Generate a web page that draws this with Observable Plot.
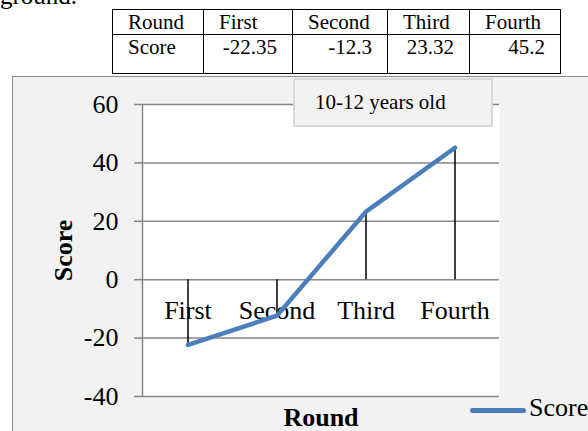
<!DOCTYPE html>
<html><head><meta charset="utf-8">
<script src="https://cdn.jsdelivr.net/npm/d3@7"></script>
<script src="https://cdn.jsdelivr.net/npm/@observablehq/plot@0.6"></script>
<style>
html,body{margin:0;padding:0;background:#fff;}
body{width:588px;height:431px;position:relative;overflow:hidden;font-family:"Liberation Serif","Times New Roman",serif;color:#000;}
#frag{position:absolute;left:0;top:-17px;font-size:25px;line-height:1;white-space:nowrap;font-family:"Liberation Serif",serif;}
#tbl{position:absolute;left:112px;top:9px;border-collapse:collapse;table-layout:fixed;font-size:21px;line-height:24px;font-family:"Liberation Serif",serif;}
#tbl td{border:1.5px solid #000;padding:0 15px;vertical-align:top;white-space:nowrap;overflow:hidden;font-family:"Liberation Serif",serif;}
#tbl td.num{text-align:right;}
#tbl tr.r1 td{height:24px;}
#tbl tr.r2 td{height:38px;}
#box{position:absolute;left:12px;top:76px;width:620px;height:400px;background:#f2f2f2;border:1px solid #8c8c8c;}
#chart{position:absolute;left:0;top:0;}
#title{position:absolute;left:280px;top:1px;width:200px;height:49px;box-sizing:border-box;border:2px solid #d9d9d9;background:#f2f2f2;font-size:21px;line-height:24px;padding:10px 0 0 20px;white-space:nowrap;font-family:"Liberation Serif",serif;}
#legline{position:absolute;left:457px;top:331px;width:56px;height:4.5px;border-radius:3px;background:#4a7ebb;}
#legtext{position:absolute;left:516px;top:318px;font-size:26px;line-height:26px;white-space:nowrap;font-family:"Liberation Serif",serif;}
#chart g[aria-label^="y-axis"] line,#chart g[aria-label^="y-axis"] path{stroke:#878787;stroke-width:1.5;}
</style>
</head><body>
<div id="frag">ground.</div>
<table id="tbl"></table>
<div id="box">
  <div id="chart"></div>
  <div id="title"></div>
  <div id="legline"></div>
  <div id="legtext"></div>
</div>
<script>
const rounds = ["First", "Second", "Third", "Fourth"];
const scores = [-22.35, -12.3, 23.32, 45.2];
const yTicks = [-40, -20, 0, 20, 40, 60];
const rowLabels = ["Round", "Score"];
const chartTitle = "10-12 years old";
const seriesName = "Score";
const xTitle = "Round";
const yTitle = "Score";

const data = rounds.map((r, i) => ({round: r, score: scores[i]}));

// table
const colW = [91, 89, 95, 82, 91];
const tbl = document.getElementById("tbl");
const cg = document.createElement("colgroup");
colW.forEach(w => { const c = document.createElement("col"); c.style.width = w + "px"; cg.appendChild(c); });
tbl.appendChild(cg);
const tr1 = document.createElement("tr"); tr1.className = "r1";
[rowLabels[0], ...rounds].forEach(t => { const td = document.createElement("td"); td.textContent = t; tr1.appendChild(td); });
const tr2 = document.createElement("tr"); tr2.className = "r2";
const td0 = document.createElement("td"); td0.textContent = rowLabels[1]; tr2.appendChild(td0);
scores.forEach(v => { const td = document.createElement("td"); td.className = "num"; td.textContent = String(v); tr2.appendChild(td); });
tbl.appendChild(tr1); tbl.appendChild(tr2);

document.getElementById("title").textContent = chartTitle;
document.getElementById("legtext").textContent = seriesName;

const W = 575, H = 354, ml = 129, mr = 89, mt = 27, mb = 35;
const iw = W - ml - mr, ih = H - mt - mb;
const grid = "#878787";

const chart = Plot.plot({
  width: W, height: H,
  marginLeft: ml, marginRight: mr, marginTop: mt, marginBottom: mb,
  style: {fontFamily: "'Liberation Serif','Times New Roman',serif", fontSize: "26px", background: "transparent", color: "#000", overflow: "visible"},
  x: {type: "band", domain: rounds, padding: 0, axis: null},
  y: {domain: [-40, 60], ticks: yTicks, tickSize: 8, tickPadding: 16, tickFormat: d => String(d), label: null},
  marks: [
    Plot.frame({fill: "white", stroke: "none"}),
    Plot.ruleY(yTicks, {stroke: grid, strokeWidth: 1.5}),
    Plot.frame({fill: "none", stroke: grid, strokeWidth: 1.5, strokeDasharray: `0 ${2 * iw + ih} ${ih} 0`}),
    Plot.text(data, {x: "round", y: () => 0, text: "round", dy: 31, lineAnchor: "middle", fill: "#000"}),
    Plot.ruleX(data, {x: "round", y1: () => 0, y2: "score", stroke: "#000", strokeWidth: 1.5}),
    Plot.line(data, {x: "round", y: "score", stroke: "#4a7ebb", strokeWidth: 4.5, strokeLinecap: "round", strokeLinejoin: "round"}),
    Plot.text([xTitle], {text: d => d, frameAnchor: "bottom", dy: 21, lineAnchor: "middle", fontWeight: "bold", fill: "#000"}),
    Plot.text([yTitle], {text: d => d, frameAnchor: "left", dx: -79, rotate: -90, lineAnchor: "middle", textAnchor: "middle", fontWeight: "bold", fill: "#000"})
  ]
});
document.getElementById("chart").appendChild(chart);
</script>
</body></html>
